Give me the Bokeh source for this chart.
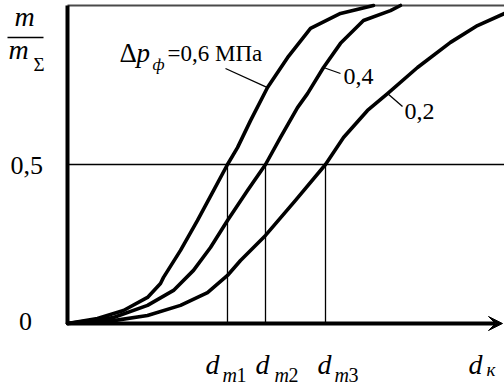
from bokeh.plotting import figure
from bokeh.models import Range1d, Arrow, VeeHead
from bokeh.core.properties import value
from bokeh.embed import file_html
from bokeh.resources import INLINE

# ---------------- data ----------------
# particle size d (arbitrary units, 0 .. 10 across the plot) and cumulative mass fraction m/mΣ
curve_06_x = [0, 0.686, 1.281, 1.831, 2.128, 2.197, 2.586, 2.975, 3.341, 3.661, 3.890, 4.188, 4.577, 5.034, 5.561, 6.247, 7.002]
curve_06_y = [0, 0.016, 0.041, 0.082, 0.126, 0.145, 0.230, 0.324, 0.418, 0.500, 0.553, 0.638, 0.742, 0.836, 0.928, 0.975, 1.000]

curve_04_x = [0, 1.053, 1.831, 2.426, 2.883, 3.272, 3.661, 4.119, 4.531, 4.874, 5.263, 5.492, 5.858, 6.247, 6.773, 7.391, 7.620]
curve_04_y = [0, 0.019, 0.057, 0.104, 0.167, 0.239, 0.324, 0.418, 0.500, 0.585, 0.679, 0.723, 0.805, 0.881, 0.953, 0.984, 1.000]

curve_02_x = [0, 1.053, 1.831, 2.586, 3.204, 3.661, 3.959, 4.531, 5.217, 5.904, 6.316, 6.865, 7.323, 8.009, 8.764, 9.382, 10.0]
curve_02_y = [0, 0.009, 0.025, 0.057, 0.097, 0.151, 0.198, 0.277, 0.387, 0.500, 0.585, 0.670, 0.723, 0.805, 0.884, 0.937, 0.975]

curve_labels = ["0,6", "0,4", "0,2"]
pressure_unit = "МПа"
dm_values = [3.661, 4.531, 5.904]      # d_m1, d_m2, d_m3 (median sizes, m/mΣ = 0.5)
dm_subs = ["m1", "m2", "m3"]
y_ticks = [0.0, 0.5]
y_tick_labels = ["0", "0,5"]
y_top = 1.0
x_end = 10.0

# ---------------- layout helpers (pixel positions of the picture) ----------------
W, H = 504, 385
X0, KX = 67.0, 43.7      # picture x of d = 0, pixels per unit
Y0, KY = 323.0, 318.0    # picture y of m/mΣ = 0, pixels per unit


def dx(px):
    return (px - X0) / KX


def dy(py):
    return (Y0 - py) / KY


FONT = "Liberation Serif"

p = figure(width=W, height=H, output_backend="svg", toolbar_location=None,
           x_range=Range1d(dx(0), dx(W)), y_range=Range1d(dy(H), dy(0)),
           x_axis_type=None, y_axis_type=None, min_border=0)
p.outline_line_color = None
p.xgrid.visible = False
p.ygrid.visible = False
p.background_fill_color = "white"
p.border_fill_color = "white"

# frame lines
p.segment(x0=[0], y0=[y_top], x1=[dx(510)], y1=[y_top], line_color="#4a4a4a", line_width=2)
p.segment(x0=[0], y0=[0.5], x1=[dx(510)], y1=[0.5], line_color="black", line_width=1.3)
p.segment(x0=dm_values, y0=[0] * 3, x1=dm_values, y1=[0.5] * 3, line_color="black", line_width=1.3)
p.segment(x0=[0], y0=[0], x1=[0], y1=[y_top], line_color="black", line_width=4)
p.add_layout(Arrow(x_start=0, y_start=0, x_end=dx(502), y_end=0, line_width=4, line_color="black",
                   end=VeeHead(size=14, fill_color="black", line_color="black", line_width=1)))

# curves
for xs, ys in [(curve_06_x, curve_06_y), (curve_04_x, curve_04_y), (curve_02_x, curve_02_y)]:
    p.line(xs, ys, line_color="black", line_width=3.6, line_join="round", line_cap="round")

# leader lines from curve points to labels
leaders = [((curve_06_x[12], curve_06_y[12]), (225, 68)),
           ((curve_04_x[12], curve_04_y[12]), (340, 73)),
           ((curve_02_x[12], curve_02_y[12]), (402, 106))]
p.segment(x0=[a[0] for a, b in leaders], y0=[a[1] for a, b in leaders],
          x1=[dx(b[0]) for a, b in leaders], y1=[dy(b[1]) for a, b in leaders],
          line_color="black", line_width=1.3)

SHIFT = 0.38   # baseline correction of the text renderer, in font sizes


def lab(px, py, text, size, style="normal", align="left"):
    py = py - SHIFT * size
    p.text(x=[dx(px)], y=[dy(py)], text=[text], text_font=value(FONT),
           text_font_size=value(f"{size}px"), text_font_style=style,
           text_align=align, text_baseline="alphabetic", text_color="black")


# curve labels
lab(119, 63, "Δ", 27)
lab(136, 63, "p", 27, "italic")
lab(152, 70, "ф", 17, "italic")
lab(167, 62, "=" + curve_labels[0] + " " + pressure_unit, 23)
lab(343, 85, curve_labels[1], 24)
lab(404, 120, curve_labels[2], 24)

# y-axis labels
lab(14, 27, "m", 28, "italic")
p.segment(x0=[dx(7)], y0=[dy(37)], x1=[dx(43)], y1=[dy(37)], line_color="black", line_width=1.5)
lab(8, 60, "m", 28, "italic")
lab(33, 71, "Σ", 19)
lab(10, 175, y_tick_labels[1], 26)
lab(25, 331, y_tick_labels[0], 26, align="center")

# x-axis labels
d_pos = [205, 255, 317]
sub_pos = [222, 274, 334]
for i in range(3):
    lab(d_pos[i], 375, "d", 28, "italic")
    lab(sub_pos[i], 382, dm_subs[i][0], 20, "italic")
    lab(sub_pos[i] + 14, 382, dm_subs[i][1], 20)
lab(468, 375, "d", 28, "italic")
lab(486, 376, "к", 19, "italic")

open("out.html", "w").write(file_html(p, INLINE))
